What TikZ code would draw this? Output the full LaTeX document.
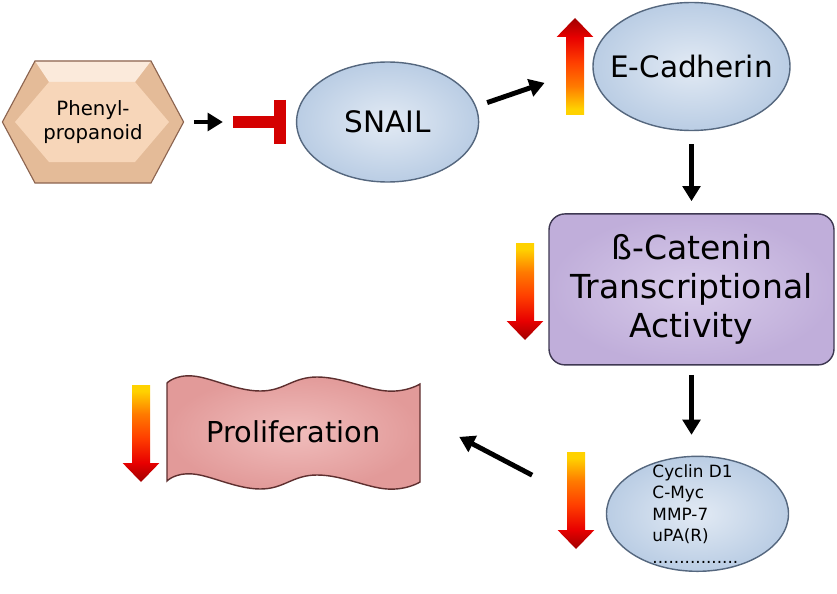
\documentclass[tikz,border=0pt]{standalone}
\usepackage{fontspec}
\setmainfont{DejaVu Sans}
\usepackage{xcolor}
\definecolor{hexSide}{HTML}{E4BB98}
\definecolor{hexTop}{HTML}{FBEADB}
\definecolor{hexFace}{HTML}{F7D6B9}
\definecolor{hexEdge}{HTML}{8C6450}
\definecolor{blobIn}{HTML}{E2EAF4}
\definecolor{blobOut}{HTML}{BACDE4}
\definecolor{blobEdge}{HTML}{55677E}
\definecolor{cateLight}{HTML}{D8CCEA}
\definecolor{cateFill}{HTML}{C0AEDA}
\definecolor{cateEdge}{HTML}{3E3852}
\definecolor{waveLight}{HTML}{F0BDBC}
\definecolor{waveFill}{HTML}{E29A99}
\definecolor{waveEdge}{HTML}{5E2F2F}
\definecolor{blockRed}{HTML}{D40000}
\definecolor{hotYellow}{HTML}{FFD200}
\definecolor{hotOrange}{HTML}{FF7A00}
\definecolor{hotAmber}{HTML}{FF4000}
\definecolor{hotRed}{HTML}{E80000}
\definecolor{hotTip}{HTML}{A00000}
\usepackage{tikz}
\usetikzlibrary{shapes.geometric,arrows.meta,positioning,calc}

\pgfdeclareverticalshading{heatdown}{100bp}{color(0bp)=(hotTip); color(25bp)=(hotTip); color(35bp)=(hotRed); color(48bp)=(hotAmber); color(60bp)=(hotOrange); color(72bp)=(hotYellow); color(100bp)=(hotYellow)}
\pgfdeclareverticalshading{heatup}{100bp}{color(0bp)=(hotYellow); color(28bp)=(hotYellow); color(40bp)=(hotOrange); color(52bp)=(hotAmber); color(65bp)=(hotRed); color(75bp)=(hotTip); color(100bp)=(hotTip)}

\tikzset{
    blob/.style={
        ellipse,
        draw=blobEdge,
        line width=1pt,
        inner color=blobIn,
        outer color=blobOut,
        inner sep=0pt
    },
    catebox/.style={
        rectangle,
        rounded corners=4mm,
        draw=cateEdge,
        line width=1pt,
        inner color=cateLight,
        outer color=cateFill,
        align=center
    },
    waveshape/.style={
        draw=waveEdge,
        line width=1pt,
        inner color=waveLight,
        outer color=waveFill
    },
    plain/.style={
        draw=none,
        align=center
    },
    bigtext/.style={font=\fontsize{21}{25}\selectfont},
    flow/.style={
        -{Triangle[length=3.8mm,width=4.4mm]},
        line width=3.5pt,
        color=black
    },
    inhibit/.style={
        -{Bar[width=1.1cm]},
        line width=8.5pt,
        color=blockRed
    },
    pics/downheat/.style={code={
        \shade[shading=heatdown] (-0.225,0) -- (0.225,0) -- (0.225,-1.95) -- (0.46,-1.95)
            -- (0,-2.425) -- (-0.46,-1.95) -- (-0.225,-1.95) -- cycle;
    }},
    pics/upheat/.style={code={
        \shade[shading=heatup] (-0.225,0) -- (0.225,0) -- (0.225,1.95) -- (0.46,1.95)
            -- (0,2.425) -- (-0.46,1.95) -- (-0.225,1.95) -- cycle;
    }}
}

\begin{document}
\begin{tikzpicture}
    \useasboundingbox (0,0) rectangle (20.925,14.825);

    % Phenylpropanoid hexagon
    \coordinate (hexc) at (2.325,11.775);
    \begin{scope}[shift={(hexc)}]
        \fill[hexSide] (-2.265,0) -- (-1.45,1.525) -- (1.45,1.525) -- (2.265,0)
            -- (1.45,-1.525) -- (-1.45,-1.525) -- cycle;
        \fill[hexTop] (-1.45,1.525) -- (1.45,1.525) -- (1.05,1.0) -- (-1.1,1.0) -- cycle;
        \fill[hexFace] (-1.95,0) -- (-1.1,1.0) -- (1.05,1.0) -- (1.9,0)
            -- (1.05,-1.0) -- (-1.1,-1.0) -- cycle;
        \draw[hexEdge, line width=0.8pt] (-2.265,0) -- (-1.45,1.525) -- (1.45,1.525)
            -- (2.265,0) -- (1.45,-1.525) -- (-1.45,-1.525) -- cycle;
    \end{scope}
    \node[plain, minimum width=4.53cm, minimum height=3.05cm,
        font=\fontsize{14}{16.8}\selectfont] (phenyl) at (hexc) {Phenyl-\\propanoid};

    % SNAIL and E-Cadherin
    \node[blob, minimum width=4.55cm, minimum height=3.0cm, right=2.8cm of phenyl,
        label={[bigtext]center:SNAIL}] (snail) {};
    \node[blob, minimum width=4.925cm, minimum height=3.2cm,
        label={[bigtext]center:E-Cadherin}] (ecad) at (17.2875,13.1625) {};

    % beta-catenin box
    \node[catebox, minimum width=7.125cm, minimum height=3.775cm, below=2.05cm of ecad,
        font=\fontsize{23.5}{27.7}\selectfont] (cat) {ß-Catenin\\Transcriptional\\Activity};

    % target genes
    \node[blob, minimum width=4.55cm, minimum height=2.875cm, below=2.25cm of cat,
        xshift=0.15cm] (genes) {};
    \node[anchor=west, align=left, font=\fontsize{12}{15.3}\selectfont] (genelist)
        at ([xshift=-1.25cm]genes.center) {Cyclin D1\\C-Myc\\MMP-7\\uPA(R)\\................};

    % Proliferation banner
    \coordinate (wavec) at (7.3375,4.025);
    \shadedraw[waveshape] plot[smooth, tension=0.7] coordinates {(4.175,5.25) (4.825,5.425)
        (6.5,5.05) (7.925,5.4) (9.675,5.05) (10.5,5.225)}
        -- plot[smooth, tension=0.7] coordinates {(10.5,2.775) (9.675,2.6) (7.925,2.95)
        (6.5,2.6) (4.825,2.975) (4.175,2.8)} -- cycle;
    \node[plain, minimum width=6.325cm, minimum height=2.45cm,
        font=\fontsize{20.5}{24}\selectfont] (prolif) at (wavec) {Proliferation};

    % up / down markers
    \pic at (14.375,11.95) {upheat};
    \pic at (13.125,8.75) {downheat};
    \pic at (14.4,3.525) {downheat};
    \pic at (3.525,5.2) {downheat};

    % Arrows
    \draw[flow, shorten <=0.25cm, shorten >=1.825cm] (phenyl.east) -- (snail.west);
    \draw[inhibit, shorten <=1.225cm, shorten >=0.25cm] (phenyl.east) -- (snail.west);
    \draw[flow, shorten <=0.29cm, shorten >=1.26cm] (snail.10) -- (ecad.west);
    \draw[flow, shorten <=0.33cm, shorten >=0.3cm] (ecad.south) -- (cat.north);
    \draw[flow, shorten <=0.23cm, shorten >=0.52cm] (cat.south) -- (cat.south |- genes.north);
    \draw[flow, shorten <=2.08cm, shorten >=1.1cm] (genes.west) -- (prolif.7);
\end{tikzpicture}
\end{document}
